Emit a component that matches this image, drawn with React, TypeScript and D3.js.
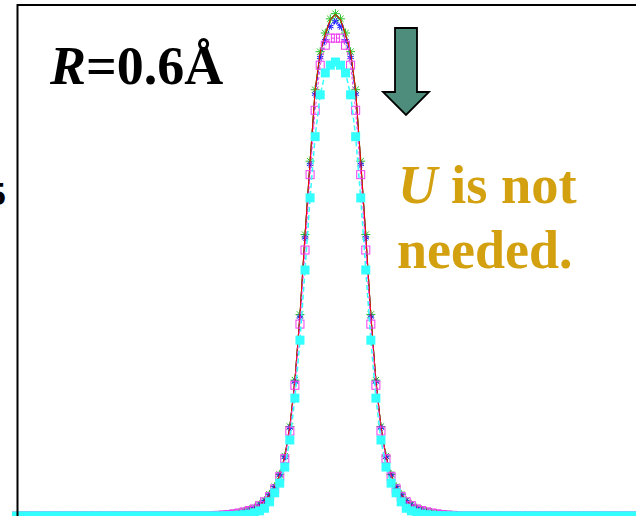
import React from "react";
import * as d3 from "d3";

// Sample grid: x from -3.15 to 3.15 in steps of 0.05
const STEP = 0.05;
const xGrid: number[] = d3.range(-63, 64).map((k) => +(k * STEP).toFixed(2));

// Peak values on the window x = -1.20 … 1.20 (49 samples); the curves sit on zero outside it
const WINDOW_START = -1.2;

const blackVals = [
  0.0008, 0.0012, 0.0019, 0.0026, 0.0037, 0.0051, 0.007, 0.0093, 0.012, 0.017, 0.023, 0.033,
  0.045, 0.064, 0.092, 0.138, 0.21, 0.312, 0.436, 0.55, 0.661, 0.719, 0.747, 0.77, 0.778,
  0.77, 0.747, 0.719, 0.661, 0.55, 0.436, 0.312, 0.21, 0.138, 0.092, 0.064, 0.045, 0.033,
  0.023, 0.017, 0.012, 0.0093, 0.007, 0.0051, 0.0037, 0.0026, 0.0019, 0.0012, 0.0008,
];

const redVals = [
  0.0008, 0.0012, 0.0019, 0.0027, 0.0038, 0.0052, 0.0071, 0.0094, 0.0122, 0.0172, 0.0233, 0.0333,
  0.0452, 0.0642, 0.0925, 0.139, 0.211, 0.313, 0.437, 0.551, 0.662, 0.72, 0.748, 0.771, 0.779,
  0.771, 0.748, 0.72, 0.662, 0.551, 0.437, 0.313, 0.211, 0.139, 0.0925, 0.0642, 0.0452, 0.0333,
  0.0233, 0.0172, 0.0122, 0.0094, 0.0071, 0.0052, 0.0038, 0.0027, 0.0019, 0.0012, 0.0008,
];

const greenVals = [
  0.0009, 0.0013, 0.002, 0.0027, 0.0038, 0.0052, 0.0072, 0.0095, 0.0123, 0.0173, 0.0235, 0.0335,
  0.0455, 0.0645, 0.093, 0.139, 0.211, 0.313, 0.437, 0.551, 0.662, 0.721, 0.75, 0.772, 0.78,
  0.772, 0.75, 0.721, 0.662, 0.551, 0.437, 0.313, 0.211, 0.139, 0.093, 0.0645, 0.0455, 0.0335,
  0.0235, 0.0173, 0.0123, 0.0095, 0.0072, 0.0052, 0.0038, 0.0027, 0.002, 0.0013, 0.0009,
];

const blueVals = [
  0.0008, 0.0012, 0.0018, 0.0025, 0.0036, 0.005, 0.0069, 0.0091, 0.0118, 0.0168, 0.0228, 0.0328,
  0.0448, 0.0638, 0.0915, 0.137, 0.208, 0.309, 0.432, 0.546, 0.655, 0.712, 0.738, 0.76, 0.768,
  0.76, 0.738, 0.712, 0.655, 0.546, 0.432, 0.309, 0.208, 0.137, 0.0915, 0.0638, 0.0448, 0.0328,
  0.0228, 0.0168, 0.0118, 0.0091, 0.0069, 0.005, 0.0036, 0.0025, 0.0018, 0.0012, 0.0008,
];

const magentaVals = [
  0.0007, 0.0011, 0.0017, 0.0024, 0.0034, 0.0047, 0.0064, 0.0085, 0.011, 0.016, 0.022, 0.03,
  0.042, 0.061, 0.089, 0.132, 0.203, 0.298, 0.413, 0.53, 0.63, 0.7, 0.731, 0.742, 0.742,
  0.742, 0.731, 0.7, 0.63, 0.53, 0.413, 0.298, 0.203, 0.132, 0.089, 0.061, 0.042, 0.03,
  0.022, 0.016, 0.011, 0.0085, 0.0064, 0.0047, 0.0034, 0.0024, 0.0017, 0.0011, 0.0007,
];

const cyanVals = [
  0, 0.0001, 0.0002, 0.0004, 0.0007, 0.0012, 0.002, 0.003, 0.005, 0.008, 0.012, 0.022,
  0.036, 0.051, 0.076, 0.118, 0.183, 0.273, 0.382, 0.494, 0.589, 0.654, 0.688, 0.7, 0.705,
  0.7, 0.688, 0.654, 0.589, 0.494, 0.382, 0.273, 0.183, 0.118, 0.076, 0.051, 0.036, 0.022,
  0.012, 0.008, 0.005, 0.003, 0.002, 0.0012, 0.0007, 0.0004, 0.0002, 0.0001, 0,
];

const yTickLabels = ["0.5"];
const yTickValues = [0.5];

type Pt = { x: number; y: number };

function toPoints(vals: number[]): Pt[] {
  return xGrid.map((x) => {
    const i = Math.round((x - WINDOW_START) / STEP);
    const y = i >= 0 && i < vals.length ? vals[i] : 0;
    return { x, y };
  });
}

const W = 636;
const H = 516;

const xScale = d3.scaleLinear().domain([-3.14, 3.14]).range([17.5, 653.3]);
const yScale = d3.scaleLinear().domain([0, 1]).range([516, -128]);

const line = d3
  .line<Pt>()
  .x((d) => xScale(d.x))
  .y((d) => yScale(d.y));

function starPath(r: number, arms: number, rot = 0): string {
  let p = "";
  for (let a = 0; a < arms; a++) {
    const t = rot + (Math.PI * a) / arms;
    const dx = r * Math.cos(t);
    const dy = r * Math.sin(t);
    p += `M${-dx},${-dy}L${dx},${dy}`;
  }
  return p;
}

const serif = "'Liberation Serif', 'Times New Roman', serif";

export default function App() {
  const black = toPoints(blackVals);
  const red = toPoints(redVals);
  const green = toPoints(greenVals);
  const blue = toPoints(blueVals);
  const magenta = toPoints(magentaVals);
  const cyan = toPoints(cyanVals);

  const cGreen = "#22c422";
  const cBlue = "#1a1aff";
  const cMagenta = "#f03cf0";
  const cCyan = "#33ffff";
  const gold = "#d3a00f";

  return (
    <svg
      width={W}
      height={H}
      style={{ position: "absolute", left: 0, top: 0, background: "#fff" }}
    >
      <rect x={0} y={0} width={W} height={H} fill="#fff" />

      {/* black reference curve */}
      <path d={line(black) || ""} fill="none" stroke="#000" strokeWidth={1} />

      {/* blue asterisk series */}
      <path d={line(blue) || ""} fill="none" stroke={cBlue} strokeWidth={1} strokeDasharray="4,2" />
      {/* green series */}
      <path d={line(green) || ""} fill="none" stroke={cGreen} strokeWidth={1} />
      {green.map((d, i) => (
        <path
          key={"g" + i}
          transform={`translate(${xScale(d.x)},${yScale(d.y)})`}
          d={starPath(4.5, 4)}
          stroke={cGreen}
          strokeWidth={1}
          fill="none"
        />
      ))}
      {blue.map((d, i) => (
        <path
          key={"b" + i}
          transform={`translate(${xScale(d.x)},${yScale(d.y)})`}
          d={starPath(3.5, 4, Math.PI / 8)}
          stroke={cBlue}
          strokeWidth={1}
          fill="none"
        />
      ))}
      <path d={line(red) || ""} fill="none" stroke="#ff0000" strokeWidth={1} />

      {/* magenta open squares */}
      <path d={line(magenta) || ""} fill="none" stroke={cMagenta} strokeWidth={1} strokeDasharray="3,2" />
      {magenta.map((d, i) => (
        <rect
          key={"m" + i}
          x={xScale(d.x) - 4}
          y={yScale(d.y) - 4}
          width={8}
          height={8}
          fill="none"
          stroke={cMagenta}
          strokeWidth={1}
        />
      ))}

      {/* cyan filled squares */}
      <path d={line(cyan) || ""} fill="none" stroke={cCyan} strokeWidth={1.5} strokeDasharray="5,3" />
      {cyan.map((d, i) => (
        <rect
          key={"c" + i}
          x={xScale(d.x) - 4.5}
          y={yScale(d.y) - 4.5}
          width={9}
          height={9}
          fill={cCyan}
        />
      ))}

      {/* plot frame */}
      <rect x={17.5} y={5} width={700} height={600} fill="none" stroke="#000" strokeWidth={2} />

      {/* y tick label */}
      {yTickValues.map((v, i) => (
        <text
          key={"yt" + i}
          x={6}
          y={yScale(v) + 11}
          textAnchor="end"
          fontFamily={serif}
          fontWeight="bold"
          fontSize={34}
          fill="#000"
        >
          {yTickLabels[i]}
        </text>
      ))}

      {/* annotations */}
      <text x={50} y={84} fontFamily={serif} fontWeight="bold" fontSize={54} fill="#000">
        <tspan fontStyle="italic">R</tspan>=0.6Å
      </text>

      <polygon
        points="395,28 417,28 417,92 429,92 406,115 383,92 395,92"
        fill="#4e8c7b"
        stroke="#000"
        strokeWidth={1.8}
        strokeLinejoin="miter"
      />

      <text x={398} y={203} fontFamily={serif} fontWeight="bold" fontSize={54.5} fill={gold}>
        <tspan fontStyle="italic">U</tspan> is not
      </text>
      <text x={397} y={268} fontFamily={serif} fontWeight="bold" fontSize={54} fill={gold}>
        needed.
      </text>
    </svg>
  );
}
